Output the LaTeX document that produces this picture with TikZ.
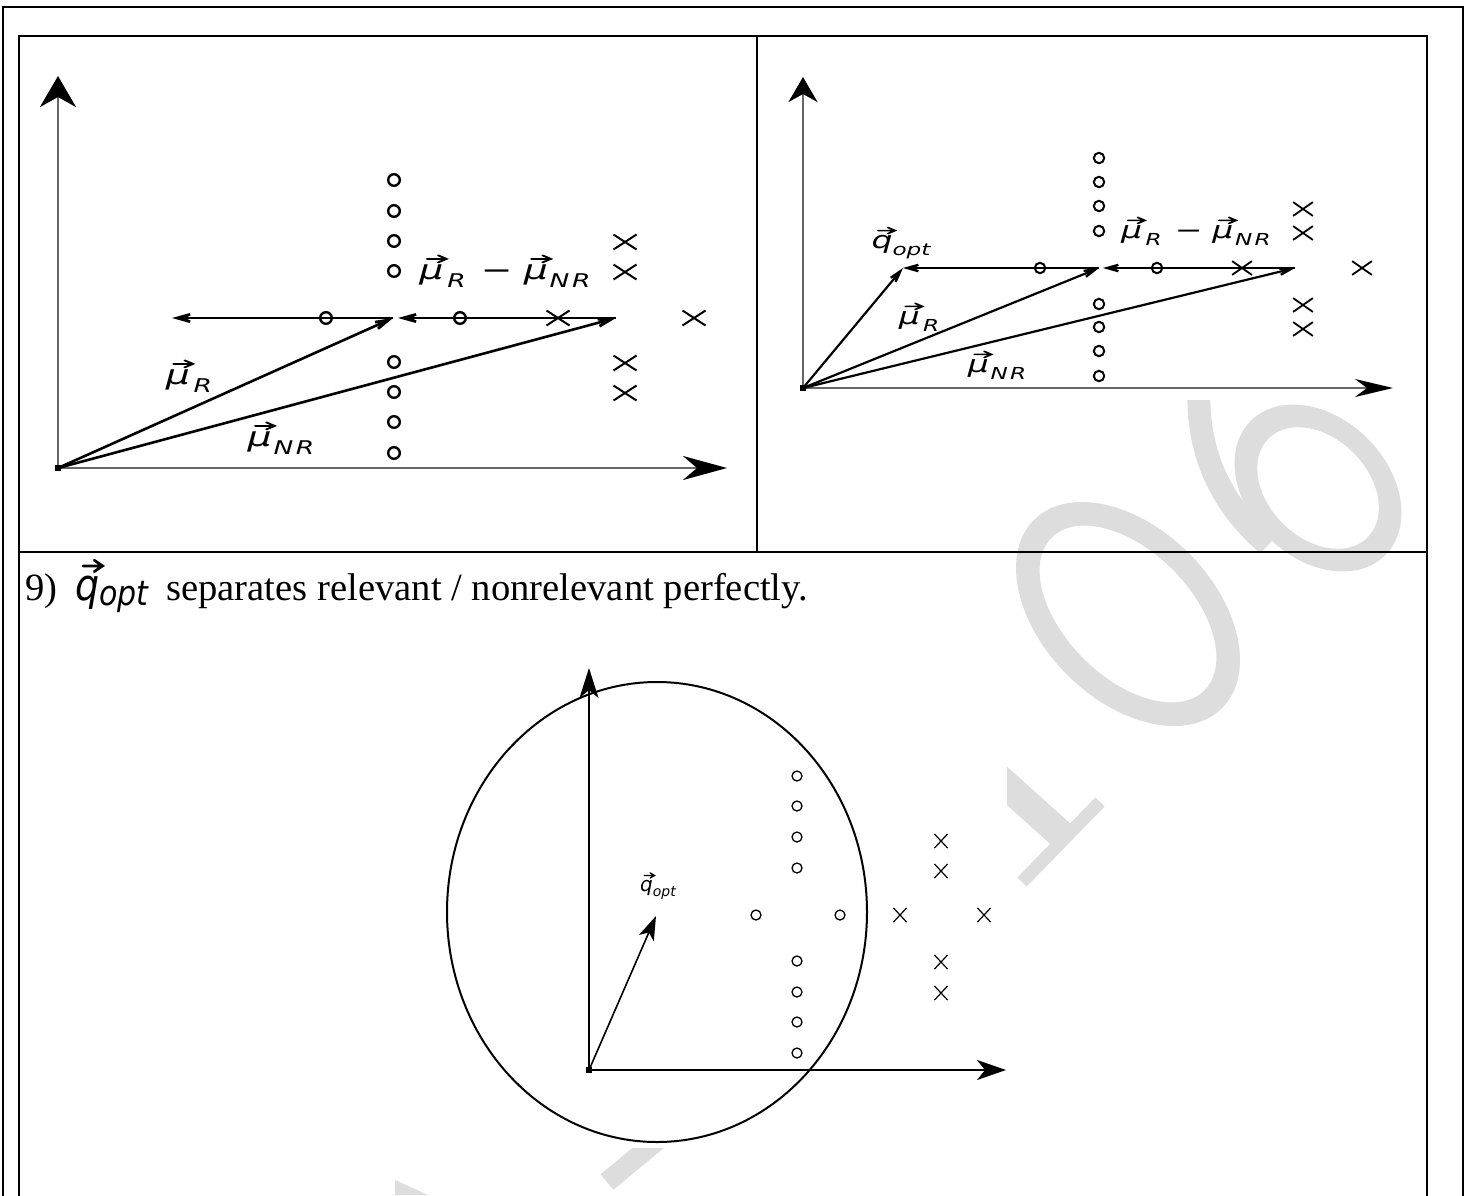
\documentclass[tikz,border=0pt]{standalone}
\usepackage{graphicx}
\usepackage{fontspec}
\setmainfont{Liberation Serif}
\newfontfamily\dvo{DejaVu Sans}
\usetikzlibrary{arrows.meta,shapes.misc}
\definecolor{wm}{RGB}{221,221,221}
\newsavebox\vbx
\newlength\vwd
\newcommand{\arrowvec}[1]{\sbox\vbx{#1}\setlength\vwd{\wd\vbx}%
  \vbox{\offinterlineskip
   \hbox{\tikz[x=1pt,y=1pt,line width=0.065em,line cap=round]{%
     \useasboundingbox (0,-0.15em) rectangle (\vwd,0.15em);
     \draw (0.2em,0) -- (\vwd+0.08em,0)
           (\vwd-0.14em,0.13em) -- (\vwd+0.08em,0) -- (\vwd-0.14em,-0.13em);}}%
   \kern0.07em
   \hbox{\usebox\vbx}}}
\makeatletter
\newcommand{\sub}[1]{\raisebox{-0.28em}{\fontsize{\strip@pt\dimexpr 7\dimexpr\f@size pt\relax/10\relax}{1}\selectfont #1}}
\makeatother
\newcommand{\mR}{\arrowvec{μ}\hspace{0.1em}\sub{R}}
\newcommand{\mNR}{\arrowvec{μ}\hspace{0.05em}\sub{N\hspace{0.1em}R}}
\newcommand{\mdiff}{\mR\hspace{0.4em}−\hspace{0.3em}\mNR}
\newcommand{\qopt}{\arrowvec{q}\sub{opt}}
\newcommand{\wide}[1]{\scalebox{1.4}[1]{#1}}
\tikzset{
  frame/.style={line width=1pt},
  axisT/.style={draw=black!60, line width=1.4pt},
  vecL/.style={line width=1.3pt, -{Stealth[length=17pt,width=9.5pt,inset=10.5pt]}},
  vecR/.style={line width=1.1pt, -{Stealth[length=14pt,width=8pt,inset=8.5pt]}},
  tcirc/.style={circle, draw, line width=1.2pt, inner sep=0pt, minimum size=5.8pt},
  tcross/.style={cross out, draw, line width=1pt, inner sep=0pt, minimum width=10.5pt, minimum height=6.5pt},
  rcirc/.style={circle, draw, line width=1pt, inner sep=0pt, minimum size=5.2pt},
  rcross/.style={cross out, draw, line width=0.9pt, inner sep=0pt, minimum width=9pt, minimum height=6pt},
  bcirc/.style={circle, draw, line width=0.65pt, inner sep=0pt, minimum size=5pt},
  bcross/.style={cross out, draw, line width=0.6pt, inner sep=0pt, minimum width=6pt, minimum height=6.5pt},
  lblL/.style={inner sep=0pt, font=\dvo\itshape\fontsize{13.5pt}{16pt}\selectfont},
  lblR/.style={inner sep=0pt, font=\dvo\itshape\fontsize{11.8pt}{14pt}\selectfont},
  lblB/.style={inner sep=0pt, font=\dvo\itshape\fontsize{10pt}{12pt}\selectfont},
  origin/.style={fill, inner sep=0pt, minimum size=3pt},
  heading/.style={anchor=base west, inner sep=0pt, font=\fontsize{19.3pt}{23pt}\selectfont},
}
\begin{document}
\begin{tikzpicture}[x=0.5pt,y=0.5pt]
\useasboundingbox (0,0) rectangle (1467,-1195);
\fill[white] (0,0) rectangle (1467,-1195);
% ---- watermark ----
\fill[wm, even odd rule, rotate around={-45:(1128,-614)}]
  (1128,-614) ellipse [x radius=133, y radius=86]
  (1128,-614) ellipse [x radius=108, y radius=63];
\fill[wm, even odd rule, rotate around={-45:(1318,-488)}]
  (1318,-488) ellipse [x radius=95, y radius=70]
  (1318,-488) ellipse [x radius=70, y radius=50];
\draw[wm, line width=11.5pt] (1199,-390) .. controls (1197,-455) and (1222,-505) .. (1268,-545);
\draw[wm, line width=14.3pt] (985,-766) -- (1065,-838);
\draw[wm, line width=6.5pt] (1022,-882) -- (1100,-802);
\draw[wm, line width=10pt] (607,-1182) -- (665,-1134);
\fill[wm] (395,-1180) -- (428,-1195) -- (395,-1195) -- cycle;
% image areas covering the watermark
\fill[white] (770,-42) rectangle (1420,-400);
\fill[white] (440,-655) rectangle (1007,-1148);
% ---- frames ----
\draw[frame] (3,-1300) -- (3,-7) -- (1463,-7) -- (1463,-1300);
\draw[frame] (19,-1300) -- (19,-36) -- (1427,-36) -- (1427,-1300);
\draw[frame] (757,-36) -- (757,-552);
\draw[frame] (19,-552) -- (1427,-552);
% ================= top-left panel =================
\coordinate (o1) at (58,-468);
\coordinate (y1) at (58,-76);
\coordinate (x1) at (727,-468);
\coordinate (m1) at (393,-318);
\coordinate (m1b) at (398,-318);
\coordinate (l1) at (172,-318);
\coordinate (e1) at (616,-318);
\draw[axisT, -{Stealth[length=15.5pt,width=18pt,inset=5pt,color=black]}] (o1) -- (y1);
\draw[axisT, -{Stealth[length=22pt,width=12pt,inset=7pt,color=black]}] (o1) -- (x1);
\node[origin] (sq1) at (o1) {};
\foreach \y [count=\i] in {180,211,241,271,362,392,422,453}
  \node[tcirc] (c1-\i) at (394,-\y) {};
\node[tcirc] (c1-a) at (326,-318) {};
\node[tcirc] (c1-b) at (460,-318) {};
\foreach \y [count=\i] in {242,272,363,393}
  \node[tcross] (x1-\i) at (625,-\y) {};
\node[tcross] (x1-a) at (558,-318) {};
\node[tcross] (x1-b) at (694,-318) {};
\draw[vecL] (m1) -- (l1);
\draw[vecL] (e1) -- (m1b);
\draw[vecL] (o1) -- (m1);
\draw[vecL] (o1) -- (e1);
\node[lblL] (lr1) at (189,-376) {\wide{\mR}};
\node[lblL] (lnr1) at (281,-438) {\wide{\mNR}};
\node[lblL] (ld1) at (505,-271) {\wide{\mdiff}};
% ================= top-right panel =================
\coordinate (o2) at (803,-388);
\coordinate (y2) at (803,-77);
\coordinate (x2) at (1393,-388);
\coordinate (m2) at (1099,-268);
\coordinate (m2b) at (1103,-268);
\coordinate (l2) at (903,-268);
\coordinate (e2) at (1295,-268);
\draw[axisT, line width=1.2pt, -{Stealth[length=12.5pt,width=14.5pt,inset=4pt,color=black]}] (o2) -- (y2);
\draw[axisT, line width=1.2pt, -{Stealth[length=19pt,width=9pt,inset=6pt,color=black]}] (o2) -- (x2);
\node[origin] (sq2) at (o2) {};
\foreach \y [count=\i] in {158,182,206,231,304,327,351,376}
  \node[rcirc] (c2-\i) at (1099,-\y) {};
\node[rcirc] (c2-a) at (1040,-268) {};
\node[rcirc] (c2-b) at (1157,-268) {};
\foreach \y [count=\i] in {209,233,305,329}
  \node[rcross] (x2-\i) at (1303,-\y) {};
\node[rcross] (x2-a) at (1242,-268) {};
\node[rcross] (x2-b) at (1362,-268) {};
\draw[vecR] (m2) -- (l2);
\draw[vecR] (e2) -- (m2b);
\draw[vecR] (o2) -- (m2);
\draw[vecR] (o2) -- (e2);
\draw[vecR] (o2) -- (l2);
\node[lblR] (lq2) at (901,-243) {\wide{\qopt}};
\node[lblR] (lr2) at (919,-317) {\wide{\mR}};
\node[lblR] (lnr2) at (997,-365) {\wide{\mNR}};
\node[lblR] (ld2) at (1196,-231) {\wide{\mdiff}};
% ================= heading =================
\node[heading] (n9) at (25,-600) {9)};
\node[anchor=base west, inner sep=0pt] (qbig) at (75,-600)
  {\scalebox{1}[1.15]{\dvo\itshape\fontsize{19pt}{22pt}\selectfont \arrowvec{q}\raisebox{-2.5pt}{\fontsize{15pt}{18pt}\selectfont opt}}};
\node[heading] (head) at (166,-600) {separates relevant / nonrelevant perfectly.};
% ================= bottom panel =================
\coordinate (o3) at (589,-1070);
\coordinate (y3) at (589,-668);
\coordinate (x3) at (1006,-1070);
\coordinate (q3) at (656,-916);
\draw[line width=1pt] (657,-912) ellipse [x radius=210, y radius=230];
\draw[line width=0.75pt, -{Stealth[length=15pt,width=9.5pt,inset=4pt]}] (o3) -- (y3);
\draw[line width=0.75pt, -{Stealth[length=14.5pt,width=10pt,inset=4pt]}] (o3) -- (x3);
\draw[line width=0.8pt, -{Stealth[length=12pt,width=8pt,inset=3pt]}] (o3) -- (q3);
\node[origin] (sq3) at (o3) {};
\foreach \y [count=\i] in {776,806,837,868,961,992,1022,1053}
  \node[bcirc] (c3-\i) at (797,-\y) {};
\node[bcirc] (c3-a) at (756,-915) {};
\node[bcirc] (c3-b) at (840,-915) {};
\foreach \y [count=\i] in {841,871,962,993}
  \node[bcross] (x3-\i) at (941,-\y) {};
\node[bcross] (x3-a) at (900,-915) {};
\node[bcross] (x3-b) at (984,-915) {};
\node[lblB] (lq3) at (658,-886) {\qopt};
\end{tikzpicture}
\end{document}
